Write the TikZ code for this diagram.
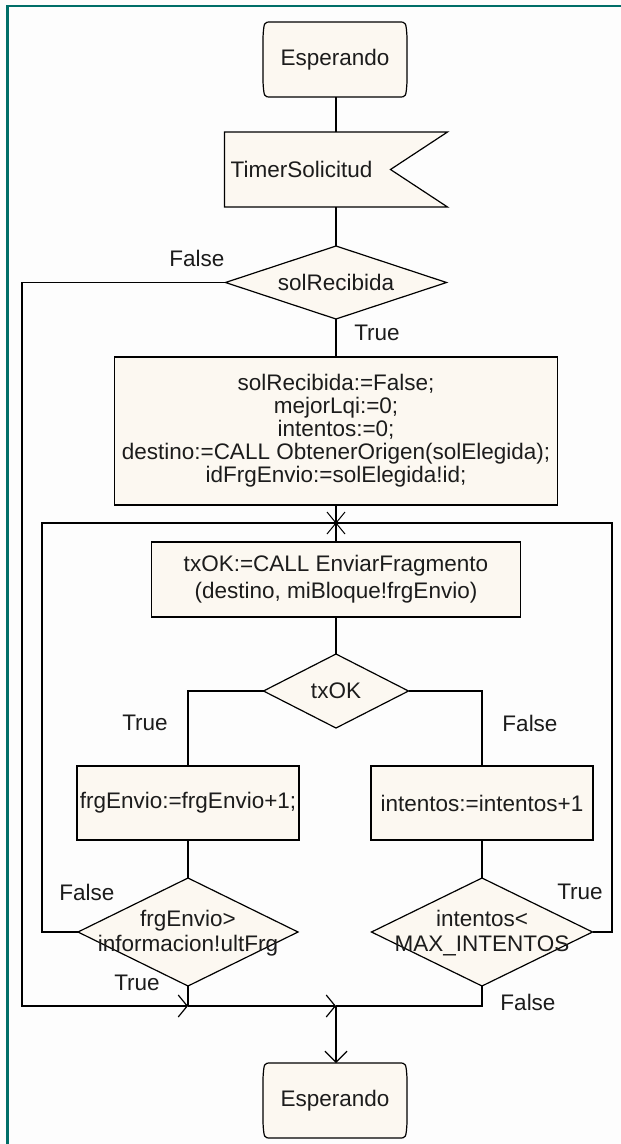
\documentclass[tikz,border=0pt]{standalone}
\usepackage{fontspec}
\setmainfont{Liberation Sans}
\usetikzlibrary{arrows.meta,calc,shapes.geometric}

\definecolor{sheet}{RGB}{253,253,253}
\definecolor{frameline}{RGB}{0,110,104}
\definecolor{cream}{RGB}{252,248,241}
\definecolor{ink}{RGB}{28,28,28}

% state symbol outline: flat top and bottom, corners bending into the sides
\newcommand{\stateoutline}[1]{%
  \draw[outline]
    ([xshift=8pt]#1.north west) -- ([xshift=-8pt]#1.north east)
    .. controls ([xshift=-1pt]#1.north east) .. ([yshift=-15pt]#1.north east)
    -- ([yshift=15pt]#1.south east)
    .. controls ([xshift=-1pt]#1.south east) .. ([xshift=-8pt]#1.south east)
    -- ([xshift=8pt]#1.south west)
    .. controls ([xshift=1pt]#1.south west) .. ([yshift=15pt]#1.south west)
    -- ([yshift=-15pt]#1.north west)
    .. controls ([xshift=1pt]#1.north west) .. ([xshift=8pt]#1.north west) -- cycle;}

\begin{document}
\begin{tikzpicture}[x=1pt,y=-1pt,
  every node/.style={font=\fontsize{22.5}{24}\selectfont, text=ink},
  outline/.style={draw=black, fill=cream, line width=1.2pt},
  shell/.style={inner sep=0pt, outer sep=0pt},
  statebox/.style={shell, rectangle, minimum width=144pt, minimum height=75pt},
  taskbox/.style={outline, shell, rectangle, align=center},
  decision/.style={outline, shell, diamond},
  dtext/.style={shell, align=center},
  lbl/.style={inner sep=0pt},
  flow/.style={draw=black, line width=1.2pt},
  joinarrow/.style={-{Straight Barb[length=9pt,width=22pt,line width=1.2pt]}},
  downarrow/.style={-{Straight Barb[length=11pt,width=22pt,line width=1.2pt]}}]

% page and frame
\fill[sheet] (0,0) rectangle (621,1144);
\useasboundingbox (0,0) rectangle (621,1144);
\draw[frameline, line width=2.5pt] (7.5,1144) -- (7.5,6) -- (621,6);

% start state
\node[statebox] (esp1) at (335,59.5) {};
\stateoutline{esp1}
\node[shell] (esp1t) at (esp1) {Esperando};

% timer input
\node[shell, minimum width=223pt, minimum height=75pt] (timer) at (336,169.5) {};
\draw[outline] (timer.north west) -- (timer.north east)
  -- ([xshift=-57pt]timer.east) -- (timer.south east)
  -- (timer.south west) -- cycle;
\node[anchor=west, inner sep=0pt] (timertext) at ([xshift=6pt]timer.west) {TimerSolicitud};

% first decision
\node[decision, minimum width=221pt, minimum height=73pt] (d1) at (336,282.5) {};
\node[dtext] (d1t) at (d1) {solRecibida};

% initialisation task
\node[taskbox, minimum width=443pt, minimum height=148pt,
      font=\fontsize{22.5}{23}\selectfont] (init) at (336,431)
  {solRecibida:=False;\\mejorLqi:=0;\\intentos:=0;\\destino:=CALL ObtenerOrigen(solElegida);\\idFrgEnvio:=solElegida!id;};

% loop join point
\coordinate (j) at (336,523);

% send fragment
\node[taskbox, minimum width=369pt, minimum height=75pt,
      font=\fontsize{22.5}{27}\selectfont] (send) at (336,579.5)
  {txOK:=CALL EnviarFragmento\\(destino, miBloque!frgEnvio)};

\node[decision, minimum width=145pt, minimum height=74pt] (d2) at (336,691) {};
\node[dtext] (d2t) at (d2) {txOK};

% branches
\node[taskbox, minimum width=222pt, minimum height=74pt] (b3) at (188,803) {frgEnvio:=frgEnvio+1;};
\node[taskbox, minimum width=222pt, minimum height=74pt] (b4) at (482,803) {intentos:=intentos+1};

\node[decision, minimum width=220pt, minimum height=108pt] (d3) at (188,932) {};
\node[dtext, font=\fontsize{22.5}{25}\selectfont] (d3t) at (188,933) {frgEnvio>\\informacion!ultFrg};
\node[decision, minimum width=221pt, minimum height=108pt] (d4) at (482,932) {};
\node[dtext, font=\fontsize{22.5}{25}\selectfont] (d4t) at (482,933) {intentos<\\MAX\_INTENTOS};

% end state
\node[statebox] (esp2) at (335,1100.5) {};
\stateoutline{esp2}
\node[shell] (esp2t) at (esp2) {Esperando};

% bend and merge points
\coordinate (oL) at (22,1006);
\coordinate (iL) at (42,523);
\coordinate (iR) at (612,523);
\coordinate (m1) at (188,1006);
\coordinate (m2) at (336,1006);

% connectors
\draw[flow] (esp1.south -| j) -- (timer.north);
\draw[flow] (timer.south) -- (d1.north);
\draw[flow] (d1.south) -- (init.north);
\draw[flow, joinarrow] (d1.west) -| (oL) -- (m1);
\draw[flow] (init.south) -- (j) -- (send.north);
\draw[flow] (d3.west) -| (iL) -- (j);
\draw[flow] (d4.east) -| (iR) -- (j);
\draw[flow] (send.south) -- (d2.north);
\draw[flow] (d2.west) -| (b3.north);
\draw[flow] (d2.east) -| (b4.north);
\draw[flow] (b3.south) -- (d3.north);
\draw[flow] (b4.south) -- (d4.north);
\draw[flow] (d3.south) -- (m1);
\draw[flow, joinarrow] (m1) -- (m2);
\draw[flow] (d4.south) |- (m2);
\draw[flow, downarrow] (m2) -- (esp2.north -| m2);

% join marker
\fill (j) circle (2.3pt);
\draw[line width=1pt] ($(j)+(-9,-11)$) -- ($(j)+(9,11)$);
\draw[line width=1pt] ($(j)+(9,-11)$) -- ($(j)+(-9,11)$);

% branch labels
\node[lbl] (f1) at (197,258) {False};
\node[lbl] (t1) at (377,333) {True};
\node[lbl] (t2) at (145,723) {True};
\node[lbl] (f2) at (530,723) {False};
\node[lbl] (f3) at (87,892) {False};
\node[lbl] (t3) at (580,892) {True};
\node[lbl] (t4) at (137,983) {True};
\node[lbl] (f4) at (528,1002) {False};
\end{tikzpicture}
\end{document}
